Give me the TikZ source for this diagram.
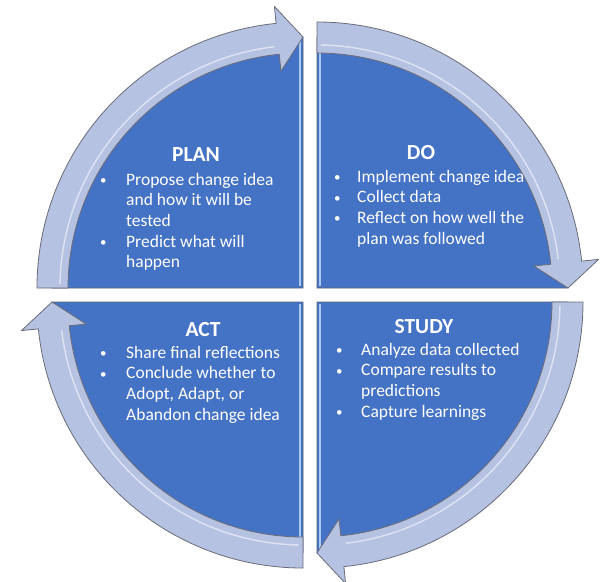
\documentclass[tikz,border=0pt]{standalone}
\usepackage{fontspec}
\setmainfont{Carlito}
\usepackage{tikz}
\usetikzlibrary{calc}
\definecolor{pdsaBlue}{HTML}{4472C4}
\definecolor{pdsaStripe}{HTML}{A9C8F2}
\definecolor{pdsaEdge}{HTML}{5A6478}
\definecolor{bandFill}{HTML}{B6C2E2}
\definecolor{bandLine}{HTML}{6A6C78}

% ring sizes (1 unit = 1 px of the reference)
\newcommand{\rPie}{251}
\newcommand{\rIn}{235}
\newcommand{\rOut}{266}
\newcommand{\rTip}{251}
\newcommand{\rWingIn}{218}
\newcommand{\rWingOut}{283}
\newcommand{\headAng}{5.8}
\newcommand{\bul}{{\fontsize{13}{13}\selectfont\raisebox{0.5pt}{\textbullet}}}

\begin{document}
\begin{tikzpicture}[
  x=1pt, y=1pt,
  every node/.style={inner sep=0pt, text=white},
  pie/.style={fill=pdsaBlue, draw=pdsaEdge, line width=0.8pt},
  pieHi/.style={draw=pdsaStripe, line width=1.6pt},
  band/.style={fill=bandFill, draw=bandLine, line width=0.8pt, line join=round},
  bandHi/.style={draw=white, line width=1.4pt, opacity=0.55},
  ttl/.style={font=\fontsize{21.5}{24}\selectfont\bfseries},
  txt/.style={font=\fontsize{17.5}{20.7}\selectfont, anchor=base west},
]
\useasboundingbox (0,0) rectangle (604,-581);
\fill[white] (0,0) rectangle (604,-581);

% quadrant corners
\coordinate (cPlan)  at (303,-288);
\coordinate (cDo)    at (317,-288);
\coordinate (cStudy) at (317,-302);
\coordinate (cAct)   at (303,-302);

% Quadrants
\foreach \c/\s in {cPlan/180, cDo/90, cStudy/0, cAct/-90} {
  \draw[pie] (\c) -- ++(\s:\rPie) arc[start angle=\s, end angle=\s-90, radius=\rPie] -- cycle;
}
% light stripe on the vertical edges
\foreach \c/\dx/\dy in {cPlan/-3/1, cDo/3/1, cStudy/3/-1, cAct/-3/-1} {
  \draw[pieHi] ($(\c)+(\dx,\dy*2)$) -- ++(0,\dy*\rPie-\dy*6);
}

% Arrows round the ring (clockwise)
\foreach \c/\s in {cPlan/180, cDo/90, cStudy/0, cAct/-90} {
  \pgfmathsetmacro{\e}{\s-90}
  \pgfmathsetmacro{\b}{\e+\headAng}
  \draw[band] ($(\c)+(\s:\rOut)$) arc[start angle=\s, end angle=\b, radius=\rOut]
    -- ($(\c)+(\b:\rWingOut)$) -- ($(\c)+(\e:\rTip)$) -- ($(\c)+(\b:\rWingIn)$)
    -- ($(\c)+(\b:\rIn)$) arc[start angle=\b, end angle=\s, radius=\rIn] -- cycle;
  \draw[bandHi] ($(\c)+(\s-1:\rIn+8)$) arc[start angle=\s-1, end angle=\b+1, radius=\rIn+8];
}

% PLAN
\node[ttl] (planT) at (196,-155) {PLAN};
\node[txt] (planL) at (100,-185) {\begin{tabular}[t]{@{}p{26pt}@{}l@{}}
  \bul & Propose change idea\\
       & and how it will be\\
       & tested\\
  \bul & Predict what will\\
       & happen
\end{tabular}};

% DO
\node[ttl] (doT) at (421,-153) {DO};
\node[txt] (doL) at (334,-182) {\begin{tabular}[t]{@{}p{23pt}@{}l@{}}
  \bul & Implement change idea\\
  \bul & Collect data\\
  \bul & Reflect on how well the\\
       & plan was followed
\end{tabular}};

% ACT
\node[ttl] (actT) at (203,-330) {ACT};
\node[txt] (actL) at (100,-358) {\begin{tabular}[t]{@{}p{26pt}@{}l@{}}
  \bul & Share final reflections\\
  \bul & Conclude whether to\\
       & Adopt, Adapt, or\\
       & Abandon change idea
\end{tabular}};

% STUDY
\node[ttl] (studyT) at (424,-327) {STUDY};
\node[txt] (studyL) at (336,-355) {\begin{tabular}[t]{@{}p{25pt}@{}l@{}}
  \bul & Analyze data collected\\
  \bul & Compare results to\\
       & predictions\\
  \bul & Capture learnings
\end{tabular}};
\end{tikzpicture}
\end{document}
